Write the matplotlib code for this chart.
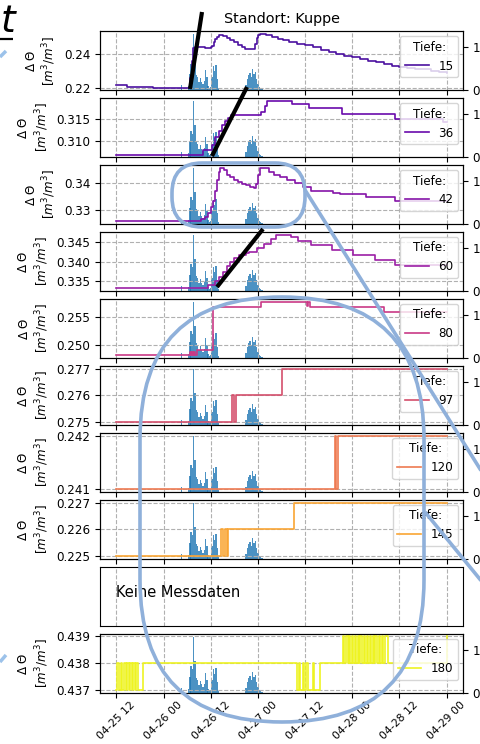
import numpy as np
import matplotlib
matplotlib.use("Agg")
import matplotlib.pyplot as plt
import matplotlib.dates as mdates
import matplotlib.transforms as mtransforms
from matplotlib.patches import FancyBboxPatch
from matplotlib.lines import Line2D

plt.rcParams["font.family"] = ["DejaVu Sans"]
plt.rcParams["font.size"] = 8.6

# ---------------- data (hours after 2023-04-25 12:00) ----------------
START = "2023-04-25 12:00"
title = "Standort: Kuppe"
legend_title = "Tiefe:"
no_data_text = "Keine Messdaten"

# precipitation bars (right axis)
rain_h = [16.5, 18.33, 18.67, 19.0, 19.33, 19.67, 20.0, 20.33, 20.67, 21.0, 21.33,
          21.67, 22.0, 22.33, 22.67, 23.0, 23.33, 23.67, 24.0, 24.33, 24.67, 25.0,
          25.33, 25.67, 26.0, 33.0, 33.33, 33.67, 34.0, 34.33, 34.67, 35.0, 35.33,
          35.67, 36.0, 36.33, 36.67, 37.0]
rain_v = [0.12, 0.10, 0.38, 0.62, 0.55, 1.31, 0.75, 0.35, 0.30, 0.18, 0.28,
          0.20, 0.15, 0.22, 0.47, 0.30, 0.10, 0.05, 0.08, 0.30, 0.56, 0.45,
          0.58, 0.25, 0.05, 0.12, 0.25, 0.35, 0.40, 0.30, 0.49, 0.38, 0.42,
          0.25, 0.15, 0.08, 0.04, 0.02]

h15 = [0, 2.8, 9.4, 18.8, 19.2, 19.6, 20.0, 22.5, 24.0, 24.4, 24.8, 25.2, 25.6, 26.0,
       27.0, 28.0, 29.0, 30.0, 31.0, 32.0, 32.6, 35.0, 35.3, 35.7, 36.1, 36.5, 38.0,
       39.5, 41.0, 42.5, 44.0, 46.0, 48.0, 50.0, 52.0, 54.0, 56.0, 58.0, 60.0, 62.0,
       64.0, 66.0, 68.0, 70.0, 72.0, 74.0, 76.0, 78.0, 80.0, 82.0, 84.0]
v15 = [0.2219, 0.2208, 0.2202, 0.2260, 0.2360, 0.2435, 0.2440, 0.2435, 0.2440, 0.2450,
       0.2470, 0.2490, 0.2505, 0.2514, 0.2510, 0.2498, 0.2485, 0.2470, 0.2455, 0.2440,
       0.2429, 0.2430, 0.2460, 0.2495, 0.2515, 0.2522, 0.2512, 0.2502, 0.2492, 0.2482,
       0.2472, 0.2462, 0.2452, 0.2440, 0.2428, 0.2412, 0.2402, 0.2392, 0.2382, 0.2371,
       0.2361, 0.2351, 0.2341, 0.2331, 0.2325, 0.2320, 0.2315, 0.2310, 0.2300, 0.2295,
       0.2290]

h36 = [0, 21.9, 24.4, 25.2, 26.0, 26.8, 27.6, 28.4, 29.2, 36.9, 37.7, 38.4, 44.8,
       49.1, 57.5, 70.8, 83.0, 84.0]
v36 = [0.3070, 0.3080, 0.3092, 0.3108, 0.3122, 0.3135, 0.3145, 0.3152, 0.3157,
       0.3165, 0.3178, 0.3190, 0.3182, 0.3173, 0.3160, 0.3150, 0.3143, 0.3143]

h42 = [0, 20.4, 21.4, 22.4, 23.2, 24.0, 24.6, 25.1, 25.6, 26.0, 26.4, 27.3, 28.0,
       29.0, 30.0, 31.0, 32.0, 33.0, 34.0, 35.0, 35.5, 36.0, 36.5, 38.0, 38.8, 40.0,
       41.5, 43.5, 45.5, 47.5, 49.5, 55.0, 57.0, 63.5, 70.8, 84.0]
v42 = [0.3259, 0.3262, 0.3267, 0.3275, 0.3290, 0.3310, 0.3335, 0.3370, 0.3410,
       0.3440, 0.3455, 0.3448, 0.3430, 0.3420, 0.3410, 0.3402, 0.3396, 0.3390,
       0.3386, 0.3382, 0.3395, 0.3430, 0.3455, 0.3455, 0.3440, 0.3428, 0.3420,
       0.3410, 0.3398, 0.3385, 0.3370, 0.3364, 0.3359, 0.3349, 0.3333, 0.3333]

h60 = [0, 23.4, 25.2, 26.0, 27.0, 28.0, 29.0, 30.0, 31.2, 33.0, 33.8, 35.8, 37.6,
       39.4, 40.7, 44.5, 46.2, 49.5, 54.8, 60.2, 65.8, 71.0, 84.0]
v60 = [0.3332, 0.3340, 0.3352, 0.3362, 0.3375, 0.3388, 0.3400, 0.3409, 0.3417,
       0.3421, 0.3425, 0.3436, 0.3446, 0.3459, 0.3469, 0.3463, 0.3454, 0.3442,
       0.3429, 0.3417, 0.3404, 0.3391, 0.3391]

h80 = [0, 18.6, 18.9, 19.2, 19.5, 19.8, 20.1, 20.4, 24.6, 36.9, 48.6, 48.8, 49.2,
       68.2, 84.0]
v80 = [0.2481, 0.2487, 0.2481, 0.2488, 0.2481, 0.2488, 0.2482, 0.2490, 0.2568,
       0.2577, 0.2570, 0.2577, 0.2568, 0.2558, 0.2558]

h97 = [0, 29.5, 30.0, 30.5, 42.2, 84.0]
v97 = [0.275, 0.276, 0.275, 0.276, 0.277, 0.277]

h120 = [0, 55.7, 56.0, 56.5, 84.0]
v120 = [0.241, 0.242, 0.241, 0.242, 0.242]

h145 = [0, 26.7, 27.2, 27.7, 28.0, 28.5, 45.3, 84.0]
v145 = [0.225, 0.226, 0.225, 0.226, 0.225, 0.226, 0.227, 0.227]

h180 = [0, 0.25, 0.75, 1.25, 1.5, 2.0, 2.5, 2.75, 3.25, 3.5, 4.0, 4.25, 4.75, 5.0,
        5.5, 6.7,
        45.9, 46.4, 46.8, 47.4, 47.8, 48.3, 48.7, 50.0, 50.4, 51.7,
        57.6, 58.0, 58.3, 58.8, 59.1, 59.5, 59.9, 60.2, 60.7, 61.0, 61.4, 61.8,
        62.1, 62.6, 62.9, 63.3, 63.7, 64.0, 64.5, 64.8, 65.2, 65.6, 65.9, 66.4,
        66.7, 67.1, 67.5, 67.8, 68.3, 69.0,
        83.9, 84.0]
v180 = [0.437, 0.438, 0.437, 0.438, 0.437, 0.438, 0.437, 0.438, 0.437, 0.438,
        0.437, 0.438, 0.437, 0.438, 0.437, 0.438,
        0.437, 0.438, 0.437, 0.438, 0.437, 0.438, 0.437, 0.438, 0.437, 0.438,
        0.439, 0.438, 0.439, 0.438, 0.439, 0.438, 0.439, 0.438, 0.439, 0.438,
        0.439, 0.438, 0.439, 0.438, 0.439, 0.438, 0.439, 0.438, 0.439, 0.438,
        0.439, 0.438, 0.439, 0.438, 0.439, 0.438, 0.439, 0.438, 0.439, 0.438,
        0.438, 0.439]

depths = [15, 36, 42, 60, 80, 97, 120, 145, None, 180]
series_h = [h15, h36, h42, h60, h80, h97, h120, h145, None, h180]
series_v = [v15, v36, v42, v60, v80, v97, v120, v145, None, v180]
yticks = [[0.22, 0.24], [0.310, 0.315], [0.33, 0.34], [0.335, 0.340, 0.345],
          [0.250, 0.255], [0.275, 0.276, 0.277], [0.241, 0.242],
          [0.225, 0.226, 0.227], None, [0.437, 0.438, 0.439]]

# ---------------- styles ----------------
colors = ["#4b10a0", "#6a0aab", "#8514a8", "#9c1fa6", "#c93a86", "#d44f6c",
          "#ee7a52", "#faa534", None, "#eef322"]

t0 = mdates.date2num(np.datetime64("2023-04-25T12:00"))
def to_num(hours):
    return t0 + np.asarray(hours, dtype=float) / 24.0

fig, axes = plt.subplots(10, 1, sharex=True, figsize=(4.8, 7.44), dpi=100,
                         gridspec_kw=dict(left=100/480, right=463/480,
                                          top=1-31/744, bottom=1-693/744,
                                          hspace=0.131))

ylab = "$\\Delta\\ \\Theta$\n$[m^3/m^3]$"
for i, ax in enumerate(axes):
    ax.grid(True, ls="--", color="#b0b0b0", lw=0.8)
    if depths[i] is None:
        ax.set_yticks([])
        ax.tick_params(axis="x", length=0)
        ax.grid(False, axis="y")
        ax.text(to_num([0])[0], 0.57, no_data_text, fontsize=10.5, va="center",
                ha="left",
                transform=mtransforms.blended_transform_factory(ax.transData, ax.transAxes))
        continue
    ax2 = ax.twinx()
    ax2.bar(to_num(rain_h), rain_v, width=1/72, color="tab:blue", alpha=0.8,
            align="center")
    ax2.set_yticks([0, 1])
    ax.set_zorder(ax2.get_zorder() + 1)
    ax.patch.set_visible(False)
    ax.plot(to_num(series_h[i]), series_v[i], drawstyle="steps-post",
            color=colors[i], lw=1.2, label=str(depths[i]))
    ax.set_yticks(yticks[i])
    ax.set_ylabel(ylab)
    ax.legend(title=legend_title, loc="upper right", borderaxespad=0.4)

axes[0].set_title(title)
axes[-1].xaxis.set_major_locator(mdates.HourLocator(byhour=[0, 12]))
axes[-1].xaxis.set_major_formatter(mdates.DateFormatter("%m-%d %H"))
axes[-1].tick_params(axis="x", labelrotation=45, labelsize=7.8, pad=1.5)

# ---------------- slide annotations (pixel positions) ----------------
T = fig.dpi_scale_trans
def P(x, y):
    return x / 100.0, (744 - y) / 100.0

def seg(p1, p2, color, lw, alpha=1.0):
    (x1, y1), (x2, y2) = P(*p1), P(*p2)
    fig.add_artist(Line2D([x1, x2], [y1, y2], transform=T, color=color, lw=lw,
                          alpha=alpha, solid_capstyle="butt", zorder=20))

blue = "#8fb0da"
x0, y0 = P(172, 227)
fig.add_artist(FancyBboxPatch((x0, y0), 1.33, 0.64,
                              boxstyle="round,pad=0,rounding_size=0.30",
                              transform=T, fill=False, ec=blue, lw=2.6, zorder=20))
x0, y0 = P(140, 722)
fig.add_artist(FancyBboxPatch((x0, y0), 2.84, 4.25,
                              boxstyle="round,pad=0,rounding_size=1.42",
                              transform=T, fill=False, ec=blue, lw=2.6, zorder=20))
seg((305, 190), (492, 488), blue, 2.6)
seg((425, 512), (492, 594), blue, 2.6)
seg((0, 57), (6, 51), "#9cc2ea", 2.5)
seg((0, 662), (6, 655), "#9cc2ea", 2.5)

seg((190, 89), (202, 12), "black", 3.0)
seg((212, 156), (247, 87), "black", 3.0)
seg((217, 287), (263, 229), "black", 3.0)

fig.text(*P(1, 32), "t", transform=T, fontsize=27, style="italic", va="baseline",
         ha="left", color="black")
seg((0, 39), (13, 39), "black", 1.6)

fig.savefig("out.png", dpi=100)
